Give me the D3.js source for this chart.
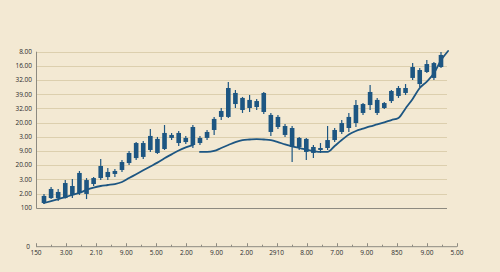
<!DOCTYPE html>
<html>
<head>
<meta charset="utf-8">
<style>
html, body { margin: 0; padding: 0; background: #f3e9d3; }
#chart svg { display: block; }
.grid line { stroke: #dccfae; stroke-width: 1; }
.axis-line { stroke: #8d8a80; stroke-width: 1; fill: none; }
.tick-label { font-family: "Open Sans", sans-serif; font-size: 6.5px; fill: #2b2b2b; }
.candle { fill: #1d5682; }
.wick { stroke: #1d5682; stroke-width: 1.2; }
.ma { fill: none; stroke: #1d5682; stroke-width: 1.8; stroke-linejoin: round; stroke-linecap: round; }
</style>
</head>
<body>
<div id="chart"></div>
<script src="https://d3js.org/d3.v7.min.js"></script>
<script>
// Tick labels (bottom to top on y, left to right on x)
var yTickValues = [100, 110, 120, 130, 140, 150, 160, 170, 180, 190, 200, 210];
var yTickLabels = ['100', '2.00', '3.00', '20.00', '9.00', '3.00', '20.00', '32.00', '39.00', '32.00', '16.00', '8.00'];
var xTickLabels = ['150', '3.00', '2.10', '9.00', '5.00', '2.00', '9.00', '2.00', '2910', '8.00', '7.00', '9.00', '850', '9.00', '5.00'];

// Candles
var candleOpen = [103.3, 106.8, 106.8, 106.8, 109.0, 110.4, 109.7, 116.7, 120.9, 121.6,
    123.8, 126.6, 131.5, 135.0, 135.8, 140.7, 138.6, 141.4, 149.2, 145.6,
    146.3, 144.2, 145.6, 149.2, 154.8, 164.0, 164.0, 180.9, 177.4, 176.0,
    175.2, 180.9, 165.4, 164.0, 157.6, 156.2, 149.2, 148.5, 142.8, 142.1,
    147.7, 147.7, 153.4, 156.2, 159.7, 166.8, 172.4, 176.0, 170.3, 175.2,
    178.8, 180.9, 191.5, 197.1, 195.7, 191.5, 199.2];
var candleClose = [108.3, 113.2, 111.1, 117.4, 115.3, 124.5, 119.5, 120.9, 129.4, 125.2,
    125.9, 132.2, 138.6, 145.6, 145.6, 150.6, 148.5, 152.7, 151.3, 152.7,
    149.2, 156.9, 149.2, 153.4, 162.6, 168.2, 184.4, 173.1, 168.9, 170.3,
    171.0, 167.5, 153.4, 156.9, 151.3, 142.8, 142.8, 139.3, 138.6, 140.7,
    142.1, 154.8, 159.7, 164.0, 172.4, 173.1, 181.6, 166.8, 173.8, 182.3,
    184.4, 184.4, 199.2, 187.2, 201.3, 202.0, 207.7];
var candleHigh = [109.7, 114.6, 113.2, 119.5, 120.2, 125.9, 120.9, 121.6, 134.3, 128.0,
    127.3, 133.6, 140.0, 146.3, 147.0, 155.5, 149.9, 158.3, 152.7, 154.1,
    150.6, 158.3, 150.6, 154.8, 164.0, 170.3, 188.6, 183.0, 178.1, 179.5,
    176.7, 181.6, 166.8, 165.4, 159.0, 157.6, 149.9, 149.2, 144.2, 145.6,
    157.6, 156.2, 161.9, 166.8, 176.0, 173.8, 186.5, 177.4, 174.5, 183.0,
    185.8, 187.2, 202.0, 198.5, 204.2, 202.7, 209.8];
var candleLow = [102.6, 106.1, 104.7, 106.5, 106.8, 109.0, 106.1, 115.3, 119.5, 119.5,
    121.6, 125.2, 130.1, 133.6, 134.3, 139.3, 137.9, 140.7, 147.7, 143.5,
    144.9, 142.1, 144.2, 147.7, 151.3, 161.9, 163.3, 170.3, 166.8, 167.5,
    168.9, 166.1, 150.6, 155.5, 149.9, 132.2, 140.7, 133.6, 135.0, 138.6,
    140.7, 146.3, 152.0, 153.4, 156.9, 165.4, 168.9, 165.4, 169.6, 173.8,
    177.4, 179.5, 190.1, 185.1, 195.0, 190.1, 198.5];

// Trend line, in two pieces (first starts at candle 0, second at candle 22)
var trendFirstStart = 0;
var trendFirst = [103.3, 104.7, 106.1, 107.5, 109.0, 110.4, 112.6, 114.2, 115.3, 116.0,
    116.7, 118.1, 120.9, 123.6, 126.4, 129.1, 131.8, 134.9, 137.6, 140.3,
    142.5, 144.2];
var trendSecondStart = 22;
var trendSecond = [139.3, 139.3, 140.0, 142.1, 144.2, 146.3, 147.7, 148.1, 148.4, 148.1,
    147.7, 146.3, 144.6, 143.2, 142.1, 141.0, 140.0, 139.3, 139.3, 143.5,
    147.7, 151.6, 154.1, 155.7, 157.3, 158.7, 160.2, 161.8, 163.3, 170.0,
    176.7, 184.4, 188.9, 194.8, 203.9, 210.5];

/*
 * Render the graphic.
 */
var render = function() {
    var width = 500;
    var height = 272;

    var plot = { left: 36, right: 447, top: 51.7, bottom: 207.7 };
    var axisY = 246.7;
    var axisRight = 457;

    var containerElement = d3.select('#chart');
    containerElement.html('');

    var svg = containerElement.append('svg')
        .attr('width', width)
        .attr('height', height);

    svg.append('rect')
        .attr('width', width)
        .attr('height', height)
        .attr('fill', '#f3e9d3');

    var yScale = d3.scaleLinear()
        .domain([100, 210])
        .range([plot.bottom, plot.top]);

    var xAxisScale = d3.scaleLinear()
        .domain([0, xTickLabels.length - 1])
        .range([plot.left, axisRight]);

    var xCandle = d3.scaleLinear()
        .domain([0, candleOpen.length - 1])
        .range([44, 441]);

    // gridlines
    svg.append('g')
        .attr('class', 'grid')
        .selectAll('line')
        .data(yTickValues.slice(1))
        .enter().append('line')
        .attr('x1', plot.left)
        .attr('x2', plot.right)
        .attr('y1', function(d) { return Math.round(yScale(d)) + 0.5; })
        .attr('y2', function(d) { return Math.round(yScale(d)) + 0.5; });

    // y axis
    svg.append('path')
        .attr('class', 'axis-line')
        .attr('d', 'M' + (plot.left + 0.5) + ',' + plot.top + 'V' + (Math.round(plot.bottom) + 0.5) + 'H' + plot.right);

    svg.append('g')
        .selectAll('text')
        .data(yTickValues)
        .enter().append('text')
        .attr('class', 'tick-label')
        .attr('x', plot.left - 4)
        .attr('y', function(d) { return yScale(d); })
        .attr('dy', '0.35em')
        .attr('text-anchor', 'end')
        .text(function(d, i) { return yTickLabels[i]; });

    // x axis
    var xAxisG = svg.append('g');
    xAxisG.append('line')
        .attr('class', 'axis-line')
        .attr('x1', plot.left)
        .attr('x2', axisRight)
        .attr('y1', axisY)
        .attr('y2', axisY);

    var minorTicks = d3.range(0, xTickLabels.length - 1 + 0.01, 0.5);
    xAxisG.selectAll('line.tick')
        .data(minorTicks)
        .enter().append('line')
        .attr('class', 'axis-line tick')
        .attr('x1', function(d) { return Math.round(xAxisScale(d)) + 0.5; })
        .attr('x2', function(d) { return Math.round(xAxisScale(d)) + 0.5; })
        .attr('y1', axisY)
        .attr('y2', function(d) { return d % 1 === 0 ? axisY - 3.5 : axisY - 2; });

    xAxisG.selectAll('text')
        .data(xTickLabels)
        .enter().append('text')
        .attr('class', 'tick-label')
        .attr('x', function(d, i) { return xAxisScale(i); })
        .attr('y', axisY + 6)
        .attr('dy', '0.35em')
        .attr('text-anchor', 'middle')
        .text(function(d) { return d; });

    svg.append('text')
        .attr('class', 'tick-label')
        .attr('x', plot.left - 8)
        .attr('y', axisY)
        .attr('dy', '0.35em')
        .attr('text-anchor', 'middle')
        .text('0');

    // candles
    var bodyWidth = 4.6;
    var candles = svg.append('g')
        .selectAll('g')
        .data(candleOpen)
        .enter().append('g');

    candles.append('line')
        .attr('class', 'wick')
        .attr('x1', function(d, i) { return xCandle(i); })
        .attr('x2', function(d, i) { return xCandle(i); })
        .attr('y1', function(d, i) { return yScale(candleHigh[i]); })
        .attr('y2', function(d, i) { return yScale(candleLow[i]); });

    candles.append('rect')
        .attr('class', 'candle')
        .attr('x', function(d, i) { return xCandle(i) - bodyWidth / 2; })
        .attr('width', bodyWidth)
        .attr('y', function(d, i) { return yScale(Math.max(candleOpen[i], candleClose[i])); })
        .attr('height', function(d, i) {
            return Math.abs(yScale(candleOpen[i]) - yScale(candleClose[i]));
        });

    // trend line
    var line = d3.line()
        .x(function(d) { return xCandle(d.i); })
        .y(function(d) { return yScale(d.v); })
        .curve(d3.curveMonotoneX);

    var firstPts = trendFirst.map(function(v, k) { return { i: trendFirstStart + k, v: v }; });
    var secondPts = trendSecond.map(function(v, k) { return { i: trendSecondStart + k, v: v }; });

    svg.append('path').attr('class', 'ma').attr('d', line(firstPts));
    svg.append('path').attr('class', 'ma').attr('d', line(secondPts));
}

render();
</script>
</body>
</html>
